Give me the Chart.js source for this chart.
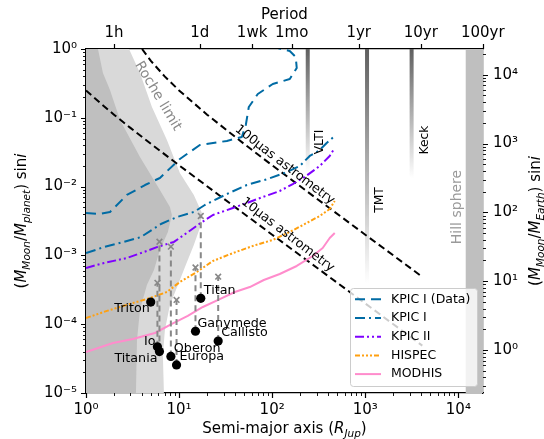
<!DOCTYPE html>
<html>
<head>
<meta charset="utf-8">
<title>Exomoon sensitivity</title>
<script src="https://cdn.jsdelivr.net/npm/chart.js@4.4.1/dist/chart.umd.min.js"></script>
<style>
  html, body { margin: 0; padding: 0; background: #fff; }
  #wrap { width: 544px; height: 439px; }
</style>
</head>
<body>
<div id="wrap"><canvas id="moonChart" width="544" height="439"></canvas></div>
<script>
// semi-major axis in R_Jup, mass ratio M_moon / M_planet

// instrument curves
const kpicDataA = [1, 1.41, 1.81, 2.75, 4.3, 6.22, 10.2, 16.7, 32.6, 47.2, 52.1, 56.1, 70.1, 101.5, 154.5, 183.6, 179.1, 154.5, 114.8];
const kpicDataQ = [4.13e-3, 4.0e-3, 4.27e-3, 7.55e-3, 1.055e-2, 1.334e-2, 2.52e-2, 4.02e-2, 4.61e-2, 5.26e-2, 7.86e-2, 0.1435, 0.222, 0.31, 0.366, 0.53, 0.765, 0.935, 1.03];
const kpic1A = [1, 1.56, 2.56, 3.89, 6.38, 9.47, 14.4, 18.9, 32.6, 53.4, 89.7, 136.5, 197.8, 253.2, 324, 385, 470];
const kpic1Q = [1.08e-3, 1.32e-3, 1.57e-3, 1.85e-3, 2.86e-3, 3.61e-3, 4.27e-3, 5.4e-3, 7.8e-3, 1.055e-2, 1.29e-2, 1.58e-2, 1.99e-2, 2.79e-2, 3.4e-2, 4.3e-2, 5.44e-2];
const kpic2A = [1, 1.56, 2.75, 4.19, 5.78, 8.8, 13.4, 17.1, 23.1, 37.8, 53.4, 79.3, 120.6, 166.3, 223.8, 324, 415, 470];
const kpic2Q = [6.56e-4, 7.76e-4, 9.17e-4, 1.12e-3, 1.32e-3, 1.57e-3, 2.34e-3, 2.96e-3, 3.87e-3, 4.89e-3, 5.78e-3, 7.06e-3, 8.63e-3, 1.09e-2, 1.38e-2, 1.99e-2, 2.79e-2, 3.64e-2];
const hispecA = [1, 1.68, 2.97, 4.86, 7.4, 10.2, 15.5, 23.1, 37.8, 61.9, 101.5, 154.5, 235, 324, 415, 470];
const hispecQ = [1.23e-4, 1.56e-4, 1.97e-4, 2.4e-4, 2.94e-4, 4.1e-4, 5.74e-4, 8.3e-4, 1.08e-3, 1.37e-3, 1.68e-3, 2.19e-3, 2.96e-3, 3.74e-3, 4.72e-3, 6.18e-3];
const modhisA = [1, 1.95, 3.19, 5.5, 8.37, 12.4, 18, 27.4, 39.7, 57.5, 81.3, 120.6, 183.6, 272.7, 349, 415, 470];
const modhisQ = [3.94e-5, 5.33e-5, 6.1e-5, 7.45e-5, 1.01e-4, 1.32e-4, 1.78e-4, 2.32e-4, 2.94e-4, 3.47e-4, 4.39e-4, 5.37e-4, 7.02e-4, 9.8e-4, 1.28e-3, 1.79e-3, 2.12e-3];

// astrometry limits
const astro100A = [4, 5, 7, 10, 20, 50, 100, 300, 1000, 4100];
const astro100Q = [1.0, 0.667, 0.4, 0.25, 0.111, 0.0417, 0.0204, 0.00671, 0.002, 4.88e-4];
const astro10A = [1, 1.5, 2, 3, 5, 10, 30, 100, 300, 1000, 4100];
const astro10Q = [0.25, 0.154, 0.111, 0.0714, 0.0417, 0.0204, 0.00671, 0.002, 6.67e-4, 2.0e-4, 4.88e-5];

// shaded regions (closed outlines)
const rocheOuterA = [1, 2.9, 3.8, 5.11, 7.4, 10.2, 14.4, 17.6, 16.7, 14.4, 11.8, 9.71, 7.97, 7.04, 6.7, 6.87, 1];
const rocheOuterQ = [1, 1, 0.448, 0.1435, 0.0476, 0.0158, 0.00755, 0.00413, 0.0025, 0.00142, 7.25e-4, 3.72e-4, 1.9e-4, 8.24e-5, 3.57e-5, 1e-5, 1e-5];
const rocheInnerA = [1, 1.345, 1.52, 1.81, 2.32, 3.8, 6.22, 7.97, 8.37, 7.58, 6.22, 5.37, 4.51, 3.8, 3.53, 3.44, 1];
const rocheInnerQ = [1, 1, 0.448, 0.254, 0.0929, 0.0269, 0.00893, 0.00505, 0.00387, 0.00219, 0.0012, 6.14e-4, 3.72e-4, 1.61e-4, 5.9e-5, 1e-5, 1e-5];
const hillA = [12000, 20000, 20000, 12000];
const hillQ = [1, 1, 1e-5, 1e-5];

// telescope resolution limits
const telescopeNames = ['VLTI', 'TMT', 'Keck'];
const telescopeA = [241, 1045, 3147];
const telescopeQEnd = [0.0163, 3.97e-4, 0.0133];

// solar system moons
const moonNames = ['Triton', 'Io', 'Titania', 'Oberon', 'Europa', 'Ganymede', 'Callisto', 'Titan'];
const moonA = [4.96, 5.85, 6.15, 8.16, 9.39, 15.0, 26.3, 17.1];
const moonQ = [2.1e-4, 4.7e-5, 4.0e-5, 3.4e-5, 2.56e-5, 7.9e-5, 5.7e-5, 2.38e-4];
const moonQUpper = [null, 4.0e-4, 1.58e-3, 1.34e-3, 2.25e-4, 6.67e-4, 4.9e-4, 3.74e-3];

// axes
const xMajorTicks = [1, 10, 100, 1000, 10000];
const yMajorTicks = [1e-5, 1e-4, 1e-3, 1e-2, 1e-1, 1];
const y2MajorTicks = [1, 10, 100, 1000, 10000];
const periodLabels = ['1h', '1d', '1wk', '1mo', '1yr', '10yr', '100yr'];
const periodHours = [1, 24, 168, 730.5, 8766, 87660, 876600];
const A_ONE_HOUR = 2.0;          // R_Jup reached by a 1 h orbit
const EARTH_PER_PLANET = 23700;  // right axis factor
const X_MIN = 1, X_MAX = 18400, Y_MIN = 1e-5, Y_MAX = 1;

// label styling (not data)
const moonLabelDx = [-1, -2, -2, 3, 3, 2, 3, 3];
const moonLabelDy = [7, -5, 7, -8, -8, -8, -8, -8];
const moonLabelAlign = ['right', 'right', 'right', 'left', 'left', 'left', 'left', 'left'];
const notes = [
  { text: 'Roche limit', a: 5.92, q: 0.207, angle: 59, color: '#8a8a8a', size: 14 },
  { text: 'Hill sphere', a: 9800, q: 5.05e-3, angle: -90, color: '#9a9a9a', size: 14 },
  { text: 'VLTI', a: 324, q: 0.0445, angle: -90, color: '#000', size: 12.3 },
  { text: 'TMT', a: 1428, q: 6.38e-3, angle: -90, color: '#000', size: 12.3 },
  { text: 'Keck', a: 4337, q: 0.0476, angle: -90, color: '#000', size: 12.3 },
  { text: '100μas astrometry', a: 136.5, q: 0.0206, angle: 37.5, color: '#000', size: 12.8 },
  { text: '10μas astrometry', a: 147, q: 1.98e-3, angle: 37.5, color: '#000', size: 12.8 }
];

const FONT = "'DejaVu Sans'";
const BLUE = '#006ba4', PURPLE = '#7f00ff', ORANGE = '#ffa010', PINK = '#ff8ccc';

const pts = (a, q) => a.map((v, i) => ({ x: v, y: q[i] }));
const SUP = { '0': '⁰', '1': '¹', '2': '²', '3': '³', '4': '⁴', '5': '⁵', '6': '⁶', '7': '⁷', '8': '⁸', '9': '⁹', '-': '⁻' };
function powLabel(v) {
    const e = Math.round(Math.log10(v));
    return '10' + String(e).split('').map(c => SUP[c]).join('');
}
const periodA = periodHours.map(h => A_ONE_HOUR * Math.pow(h, 2 / 3));

function region(a, q, color, order) {
    return { data: pts(a, q), fill: 'shape', backgroundColor: color, borderWidth: 0, pointRadius: 0, order: order };
}
function curve(label, a, q, color, dash, order) {
    return { label: label, inLegend: true, data: pts(a, q), borderColor: color, borderDash: dash, borderWidth: 2,
             borderJoinStyle: 'round', pointRadius: 0, fill: false, order: order };
}

const datasets = [
    region(rocheOuterA, rocheOuterQ, '#d9d9d9', 100),
    region(rocheInnerA, rocheInnerQ, '#bfbfbf', 99),
    region(hillA, hillQ, '#bfbfbf', 98)
];

// telescope bars fade out downwards
telescopeA.forEach((a, i) => {
    datasets.push({
        data: [{ x: a, y: Y_MAX }, { x: a, y: telescopeQEnd[i] }],
        borderWidth: 4, pointRadius: 0, fill: false, order: 90,
        borderColor: function(context) {
            const chart = context.chart;
            if (!chart.chartArea) return '#666';
            const yScale = chart.scales.y;
            const g = chart.ctx.createLinearGradient(0, yScale.getPixelForValue(Y_MAX), 0, yScale.getPixelForValue(telescopeQEnd[i]));
            g.addColorStop(0, 'rgba(95,95,95,1)');
            g.addColorStop(1, 'rgba(95,95,95,0)');
            return g;
        }
    });
});

datasets.push({ data: pts(astro100A, astro100Q), borderColor: '#000', borderDash: [7, 4], borderWidth: 2, pointRadius: 0, fill: false, order: 80 });
datasets.push({ data: pts(astro10A, astro10Q), borderColor: '#000', borderDash: [7, 4], borderWidth: 2, pointRadius: 0, fill: false, order: 80 });

// legend order
datasets.push(curve('KPIC I (Data)', kpicDataA, kpicDataQ, BLUE, [10, 6], 56));
datasets.push(curve('KPIC I', kpic1A, kpic1Q, BLUE, [10, 4, 2, 4], 57));
datasets.push(curve('KPIC II', kpic2A, kpic2Q, PURPLE, [9, 3, 2, 3, 2, 3], 58));
datasets.push(curve('HISPEC', hispecA, hispecQ, ORANGE, [5, 2, 2, 2, 2, 2, 2, 2], 59));
datasets.push(curve('MODHIS', modhisA, modhisQ, PINK, [], 60));

// moon: dashed line up to the cross
moonQUpper.forEach((qu, i) => {
    if (qu === null) return;
    datasets.push({
        data: [{ x: moonA[i], y: moonQ[i] }, { x: moonA[i], y: qu }],
        borderColor: '#888', borderDash: [6, 4], borderWidth: 2, fill: false,
        pointRadius: [0, 4], pointStyle: 'crossRot', pointBorderColor: '#888', pointBorderWidth: 1.6,
        order: 20
    });
});
datasets.push({ data: pts(moonA, moonQ), showLine: false, pointRadius: 4.6, pointBackgroundColor: '#000',
                pointBorderWidth: 0, pointBorderColor: '#000', order: 10 });

function minorValues(min, max) {
    const out = [];
    for (let d = Math.floor(Math.log10(min)); d <= Math.ceil(Math.log10(max)); d++) {
        for (let k = 2; k <= 9; k++) {
            const v = k * Math.pow(10, d);
            if (v >= min * 0.9999 && v <= max * 1.0001) out.push(v);
        }
    }
    return out;
}

function drawTickSet(ctx, scale, values, len, width) {
    ctx.lineWidth = width;
    ctx.beginPath();
    values.forEach(v => {
        const p = Math.round(scale.getPixelForValue(v)) + 0.5;
        if (scale.position === 'bottom') { ctx.moveTo(p, scale.top); ctx.lineTo(p, scale.top + len); }
        else if (scale.position === 'top') { ctx.moveTo(p, scale.bottom); ctx.lineTo(p, scale.bottom - len); }
        else if (scale.position === 'left') { ctx.moveTo(scale.right, p); ctx.lineTo(scale.right - len, p); }
        else { ctx.moveTo(scale.left, p); ctx.lineTo(scale.left + len, p); }
    });
    ctx.stroke();
}

// text with italic / subscript runs, centred on (x, y)
function drawRichText(ctx, parts, x, y, rotation, size) {
    const subSize = size * 0.7;
    const fontOf = p => (p.it ? 'italic ' : '') + (p.sub ? subSize : size) + 'px ' + FONT;
    let total = 0;
    const widths = parts.map(p => { ctx.font = fontOf(p); const w = ctx.measureText(p.t).width; total += w; return w; });
    ctx.save();
    ctx.translate(x, y);
    ctx.rotate(rotation);
    ctx.fillStyle = '#000';
    ctx.textAlign = 'left';
    ctx.textBaseline = 'alphabetic';
    let cx = -total / 2;
    parts.forEach((p, i) => {
        ctx.font = fontOf(p);
        ctx.fillText(p.t, cx, size * 0.36 + (p.sub ? size * 0.22 : 0));
        cx += widths[i];
    });
    ctx.restore();
}

function drawLabel(ctx, text, px, py, angleDeg, color, size) {
    ctx.save();
    ctx.translate(px, py);
    ctx.rotate(angleDeg * Math.PI / 180);
    ctx.font = size + 'px ' + FONT;
    ctx.fillStyle = color;
    ctx.textAlign = 'center';
    ctx.textBaseline = 'middle';
    ctx.fillText(text, 0, 0);
    ctx.restore();
}

const overlays = {
    id: 'overlays',
    afterDatasetsDraw(chart) {
        const { ctx, scales: { x, y } } = chart;
        notes.forEach(n => drawLabel(ctx, n.text, x.getPixelForValue(n.a), y.getPixelForValue(n.q), n.angle, n.color, n.size));
        ctx.save();
        ctx.font = '12.7px ' + FONT;
        ctx.fillStyle = '#000';
        ctx.textBaseline = 'middle';
        moonNames.forEach((name, i) => {
            ctx.textAlign = moonLabelAlign[i];
            ctx.fillText(name, x.getPixelForValue(moonA[i]) + moonLabelDx[i], y.getPixelForValue(moonQ[i]) + moonLabelDy[i]);
        });
        ctx.restore();
    },
    afterDraw(chart) {
        const { ctx, chartArea: ca, scales } = chart;
        ctx.save();
        ctx.strokeStyle = '#000';
        drawTickSet(ctx, scales.x, xMajorTicks, 5, 1.2);
        drawTickSet(ctx, scales.x, minorValues(X_MIN, X_MAX), 3, 0.9);
        drawTickSet(ctx, scales.y, yMajorTicks, 5, 1.2);
        drawTickSet(ctx, scales.y, minorValues(Y_MIN, Y_MAX), 3, 0.9);
        drawTickSet(ctx, scales.y2, y2MajorTicks, 5, 1.2);
        drawTickSet(ctx, scales.y2, minorValues(Y_MIN * EARTH_PER_PLANET, Y_MAX * EARTH_PER_PLANET), 3, 0.9);
        drawTickSet(ctx, scales.x2, periodA, 5, 1.2);
        ctx.restore();

        const midX = (ca.left + ca.right) / 2, midY = (ca.top + ca.bottom) / 2;
        drawRichText(ctx, [{ t: 'Semi-major axis (' }, { t: 'R', it: true }, { t: 'Jup', it: true, sub: true }, { t: ')' }],
                     midX, 428, 0, 15);
        drawRichText(ctx, [{ t: '(' }, { t: 'M', it: true }, { t: 'Moon', it: true, sub: true }, { t: '/' },
                           { t: 'M', it: true }, { t: 'planet', it: true, sub: true }, { t: ') sin' }, { t: 'i', it: true }],
                     21, midY, -Math.PI / 2, 15);
        drawRichText(ctx, [{ t: '(' }, { t: 'M', it: true }, { t: 'Moon', it: true, sub: true }, { t: '/' },
                           { t: 'M', it: true }, { t: 'Earth', it: true, sub: true }, { t: ') sin' }, { t: 'i', it: true }],
                     535, midY, -Math.PI / 2, 15);

        // legend box, lower right inside the axes
        const entries = chart.data.datasets.filter(d => d.inLegend);
        const boxW = 127, rowH = 18.7, boxH = 98;
        const right = ca.right - 6, bottom = ca.bottom - 7;
        const left = right - boxW, top = bottom - boxH;
        ctx.save();
        ctx.fillStyle = 'rgba(255,255,255,0.8)';
        ctx.strokeStyle = '#cccccc';
        ctx.lineWidth = 1;
        ctx.beginPath();
        ctx.roundRect(left + 0.5, top + 0.5, boxW, boxH, 3);
        ctx.fill();
        ctx.stroke();
        ctx.font = '12.5px ' + FONT;
        ctx.textAlign = 'left';
        ctx.textBaseline = 'middle';
        entries.forEach((d, i) => {
            const cy = top + 11.3 + i * rowH;
            ctx.setLineDash(d.borderDash);
            ctx.strokeStyle = d.borderColor;
            ctx.lineWidth = d.borderWidth;
            ctx.beginPath();
            ctx.moveTo(left + 5, cy);
            ctx.lineTo(left + 31, cy);
            ctx.stroke();
            ctx.setLineDash([]);
            ctx.fillStyle = '#000';
            ctx.fillText(d.label, left + 41, cy);
        });
        ctx.restore();
    }
};

const tickFont = { family: FONT, size: 15 };
const fixedTicks = values => scale => { scale.ticks = values.map(v => ({ value: v })); };
const noGrid = { display: false, drawTicks: false };
const axisBorder = { display: true, color: '#000', width: 1.2 };

new Chart(document.getElementById('moonChart'), {
    type: 'line',
    data: { datasets: datasets },
    options: {
        responsive: false,
        devicePixelRatio: 1,
        animation: false,
        events: [],
        layout: { padding: 0 },
        plugins: { legend: { display: false }, tooltip: { enabled: false } },
        scales: {
            x: {
                type: 'logarithmic', position: 'bottom', min: X_MIN, max: X_MAX,
                afterBuildTicks: fixedTicks(xMajorTicks),
                afterFit: s => { s.height = 46; },
                grid: noGrid, border: axisBorder,
                ticks: { autoSkip: false, maxRotation: 0, padding: 8, color: '#000', font: tickFont, callback: v => powLabel(v) }
            },
            x2: {
                type: 'logarithmic', position: 'top', min: X_MIN, max: X_MAX,
                afterBuildTicks: fixedTicks(periodA),
                afterFit: s => { s.height = 49; },
                grid: noGrid, border: axisBorder,
                title: { display: true, text: 'Period', color: '#000', font: tickFont, padding: { top: 6, bottom: 0 } },
                ticks: { autoSkip: false, maxRotation: 0, padding: 7, color: '#000', font: tickFont, callback: (v, i) => periodLabels[i] }
            },
            y: {
                type: 'logarithmic', position: 'left', min: Y_MIN, max: Y_MAX,
                afterBuildTicks: fixedTicks(yMajorTicks),
                afterFit: s => { s.width = 86; },
                grid: noGrid, border: axisBorder,
                ticks: { autoSkip: false, padding: 9, color: '#000', font: tickFont, callback: v => powLabel(v) }
            },
            y2: {
                type: 'logarithmic', position: 'right',
                min: Y_MIN * EARTH_PER_PLANET, max: Y_MAX * EARTH_PER_PLANET,
                afterBuildTicks: fixedTicks(y2MajorTicks),
                afterFit: s => { s.width = 61; },
                grid: noGrid, border: axisBorder,
                ticks: { autoSkip: false, padding: 10, color: '#000', font: tickFont, callback: v => powLabel(v) }
            }
        }
    },
    plugins: [overlays]
});
</script>
</body>
</html>
